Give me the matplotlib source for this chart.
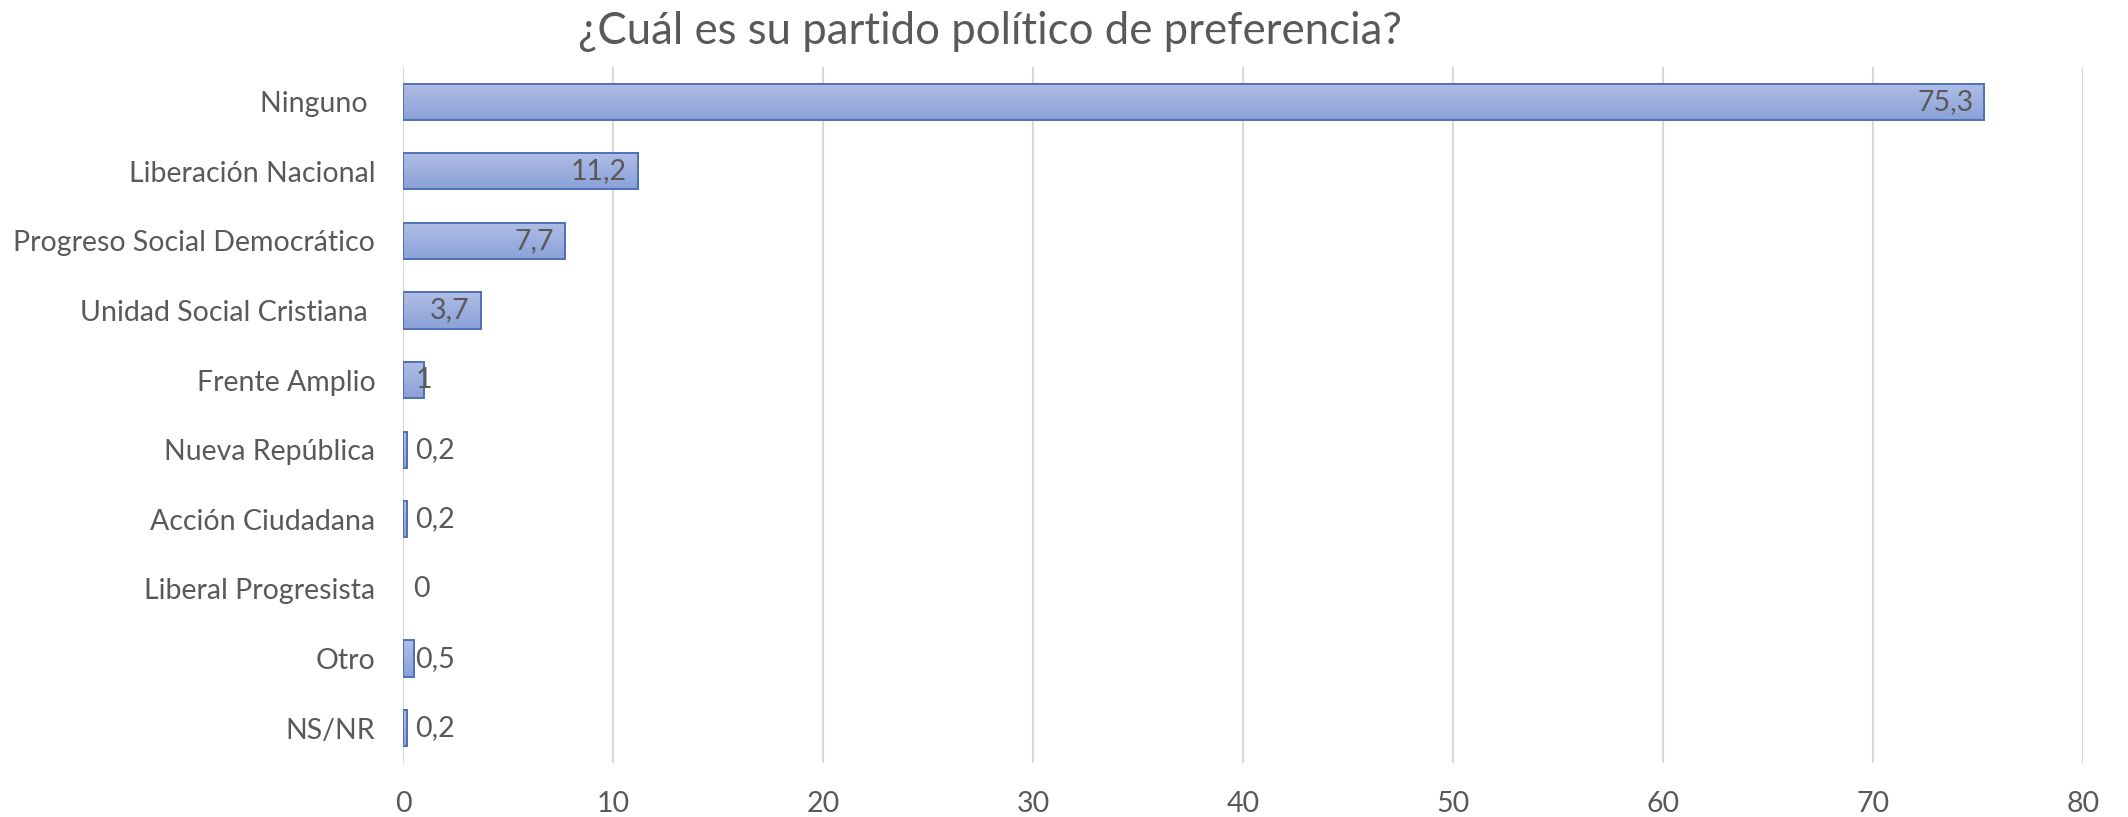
import matplotlib
matplotlib.use("Agg")
import matplotlib.pyplot as plt
import numpy as np
from matplotlib.colors import LinearSegmentedColormap

categories = ["Ninguno ", "Liberación Nacional", "Progreso Social Democrático",
              "Unidad Social Cristiana ", "Frente Amplio", "Nueva República",
              "Acción Ciudadana", "Liberal Progresista", "Otro", "NS/NR"]
values = [75.3, 11.2, 7.7, 3.7, 1, 0.2, 0.2, 0, 0.5, 0.2]
value_labels = ["75,3", "11,2", "7,7", "3,7", "1", "0,2", "0,2", "0", "0,5", "0,2"]
xticks = [0, 10, 20, 30, 40, 50, 60, 70, 80]
title = "¿Cuál es su partido político de preferencia?"

plt.rcParams['font.family'] = ['Lato', 'DejaVu Sans']
gray = "#595959"
fs = 20.5

fig = plt.figure(figsize=(21.28, 8.17), dpi=100)
ax = fig.add_axes([0.1894, 0.0661, 0.7895, 0.852])

y = np.arange(len(categories))
bars = ax.barh(y, values, height=0.52, color="#9CAFDF", edgecolor="#4F70B8",
               linewidth=1.4, zorder=3)

cmap = LinearSegmentedColormap.from_list("g", ["#B0BEE6", "#8AA1D8"])
grad = np.linspace(0, 1, 64).reshape(-1, 1)
for b in bars:
    x0, y0 = b.get_x(), b.get_y()
    w, h = b.get_width(), b.get_height()
    if w <= 0:
        b.set_linewidth(0)
        continue
    im = ax.imshow(grad, cmap=cmap, aspect="auto",
                   extent=[x0, x0 + w, y0 + h, y0], zorder=3.5, interpolation="bilinear")
    im.set_clip_path(b)
    b.set_facecolor("none")
    b.set_zorder(4)

for yi, v, lab in zip(y, values, value_labels):
    if v >= 3:
        ax.annotate(lab, (v, yi), xytext=(-8, 0), textcoords="offset points",
                    ha="right", va="center", fontsize=fs, color=gray, zorder=5)
    elif v >= 1:
        ax.annotate(lab, (v, yi), xytext=(0, 0), textcoords="offset points",
                    ha="center", va="center", fontsize=fs, color=gray, zorder=5)
    elif v > 0:
        ax.annotate(lab, (0, yi), xytext=(9, 0), textcoords="offset points",
                    ha="left", va="center", fontsize=fs, color=gray, zorder=5)
    else:
        ax.annotate(lab, (0, yi), xytext=(13, 0), textcoords="offset points",
                    ha="center", va="center", fontsize=fs, color=gray, zorder=5)

ax.set_xlim(0, 80)
ax.set_ylim(len(categories) - 0.5, -0.5)
ax.set_yticks(y)
ax.set_yticklabels(categories, fontsize=fs, color=gray)
ax.set_xticks(xticks)
ax.set_xticklabels([str(t) for t in xticks], fontsize=fs, color=gray)
ax.tick_params(axis="both", length=0)
ax.tick_params(axis="y", pad=20)
ax.tick_params(axis="x", pad=20)
ax.grid(axis="x", color="#D9D9D9", linewidth=1.5, zorder=0)
for s in ax.spines.values():
    s.set_visible(False)

fig.text(0.465, 0.962, title, ha="center", va="center", fontsize=31.5, color=gray)

fig.savefig("out.png", dpi=100)
